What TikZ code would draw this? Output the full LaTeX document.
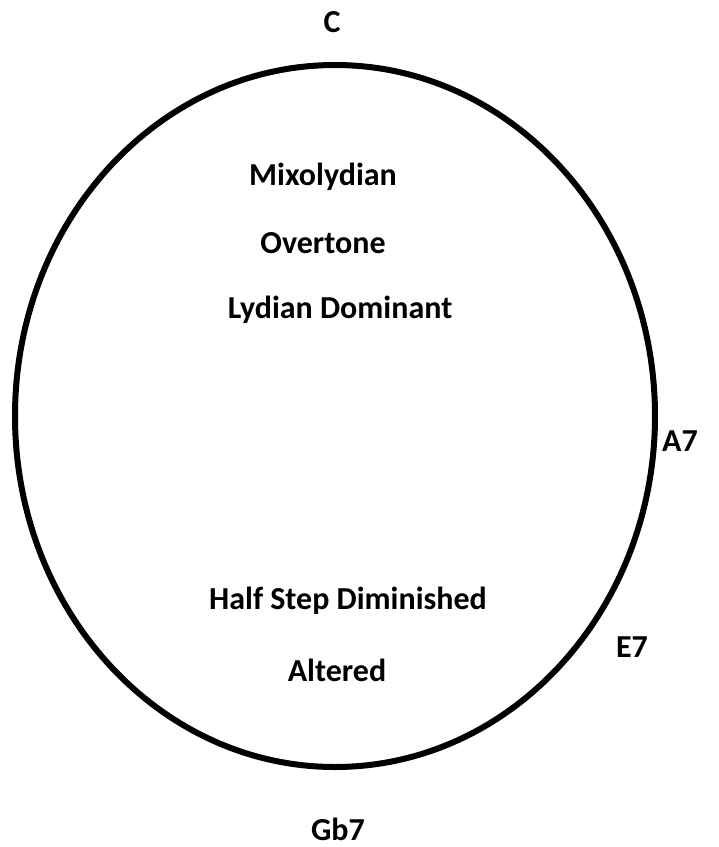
\documentclass[tikz,border=0pt]{standalone}
\usepackage{fontspec}
\setmainfont{Carlito}
\usepackage{xcolor}
\usepackage{tikz}

\begin{document}
\begin{tikzpicture}[x=1pt,y=-1pt,
    lbl/.style={font=\bfseries\fontsize{32}{38}\selectfont, inner sep=0pt}]
                    % 画布
                    \useasboundingbox (0,0) rectangle (719,847);

                    % 画椭圆
                    \draw[line width=6pt,black] (335,416) ellipse [x radius=320, y radius=351];

                    % 放置文字
                    \node[lbl] (c)   at (332,22)  {C};
                    \node[lbl] (mix) at (323,177) {Mixolydian};
                    \node[lbl] (ovt) at (323,243) {Overtone};
                    \node[lbl] (lyd) at (340,310) {Lydian Dominant};
                    \node[lbl] (a7)  at (680,441) {A7};
                    \node[lbl] (hsd) at (348,601) {Half Step Diminished};
                    \node[lbl] (alt) at (337,670) {Altered};
                    \node[lbl] (e7)  at (632,647) {E7};
                    \node[lbl] (gb7) at (338,829) {Gb7};
                \end{tikzpicture}
\end{document}
